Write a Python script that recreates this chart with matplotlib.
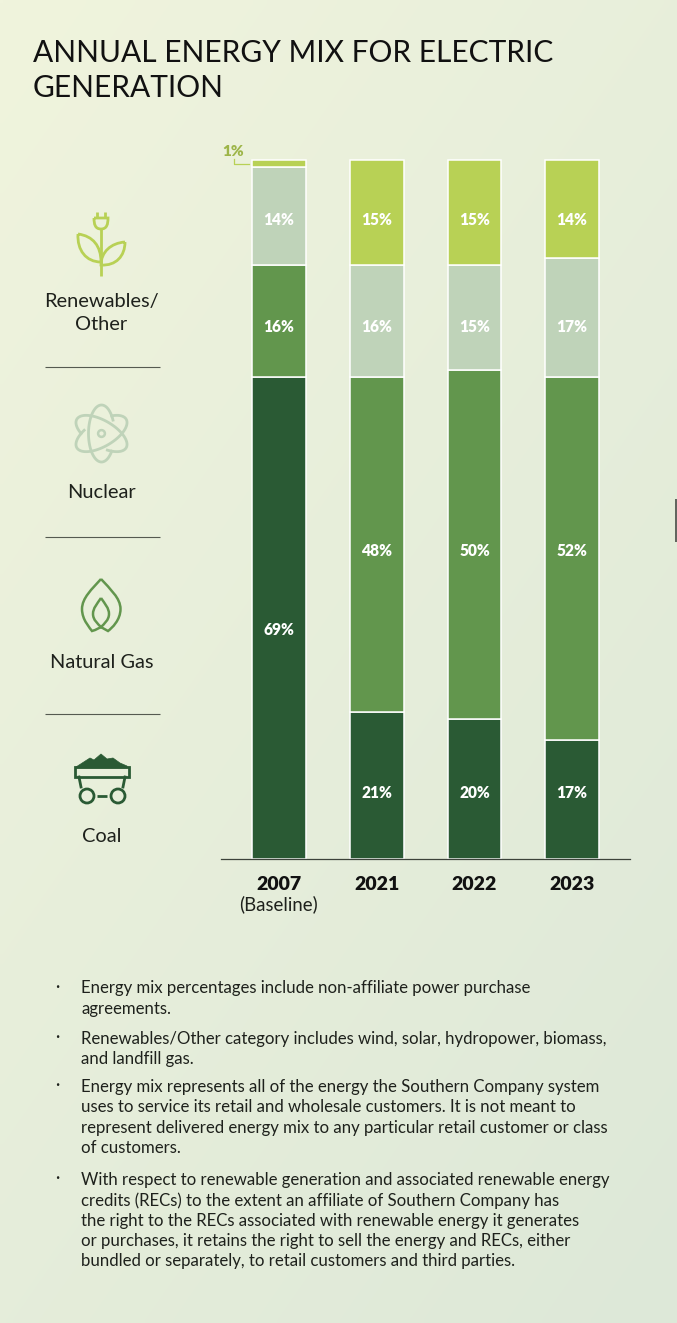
import numpy as np
import matplotlib
matplotlib.use("Agg")
import matplotlib.pyplot as plt
from matplotlib.patches import Circle, Rectangle, PathPatch, Polygon
from matplotlib.path import Path

# Data
years = ["2007", "2021", "2022", "2023"]
coal = [69, 21, 20, 17]
gas = [16, 48, 50, 52]
nuclear = [14, 16, 15, 17]
renewables = [1, 15, 15, 14]

title_lines = ["ANNUAL ENERGY MIX FOR ELECTRIC", "GENERATION"]

notes = [
    ["Energy mix percentages include non-affiliate power purchase", "agreements."],
    ["Renewables/Other category includes wind, solar, hydropower, biomass,", "and landfill gas."],
    ["Energy mix represents all of the energy the Southern Company system",
     "uses to service its retail and wholesale customers. It is not meant to",
     "represent delivered energy mix to any particular retail customer or class",
     "of customers."],
    ["With respect to renewable generation and associated renewable energy",
     "credits (RECs) to the extent an affiliate of Southern Company has",
     "the right to the RECs associated with renewable energy it generates",
     "or purchases, it retains the right to sell the energy and RECs, either",
     "bundled or separately, to retail customers and third parties."],
]

# Colours
C_COAL = "#2a5a34"
C_GAS = "#62964d"
C_NUC = "#bfd3b9"
C_REN = "#b8d155"
INK = "#1e211c"

plt.rcParams["font.family"] = ["Lato", "DejaVu Sans"]

W, H = 677, 1323
fig = plt.figure(figsize=(W / 100, H / 100), dpi=100)

# Background in pixel coords
bg = fig.add_axes([0, 0, 1, 1])
bg.axis("off")

gy, gx = np.mgrid[0:1:200j, 0:1:120j]
t = (gx * 0.55 + gy * 0.75) / 1.3
c0 = np.array([0xf0, 0xf4, 0xdd]) / 255
c1 = np.array([0xdd, 0xe8, 0xd8]) / 255
grad = c0 + (c1 - c0) * t[..., None]
bg.imshow(grad, extent=[0, W, H, 0], aspect="auto", interpolation="bilinear", zorder=0)
bg.set_xlim(0, W)
bg.set_ylim(H, 0)

# Title
bg.text(33, 53, title_lines[0], fontsize=21.5, color="#111111", va="center", ha="left")
bg.text(33, 88, title_lines[1], fontsize=21.5, color="#111111", va="center", ha="left")

# Legend labels
for label, y in [("Renewables/", 302), ("Other", 325), ("Nuclear", 492), ("Natural Gas", 663), ("Coal", 836)]:
    bg.text(101.5, y, label, fontsize=14.4, color=INK, ha="center", va="center")

for y in [367, 537, 714]:
    bg.plot([45, 160], [y, y], color="#555a50", lw=0.8, solid_capstyle="butt")

# Renewables icon
lw_icon = 2.0
bg.plot([101, 101], [229, 276], color=C_REN, lw=lw_icon, solid_capstyle="butt")
bg.plot([97, 97], [212, 218], color=C_REN, lw=lw_icon, solid_capstyle="butt")
bg.plot([105, 105], [212, 218], color=C_REN, lw=lw_icon, solid_capstyle="butt")
plug = Path([(94, 218), (108, 218), (108, 224), (107, 229), (101, 229), (95, 229), (94, 224), (94, 218)],
            [Path.MOVETO, Path.LINETO, Path.CURVE4, Path.CURVE4, Path.CURVE4, Path.CURVE4, Path.CURVE4, Path.CURVE4])
bg.add_patch(PathPatch(plug, fc="none", ec=C_REN, lw=lw_icon))
leaf_l = Path([(78, 234), (93, 236), (101, 246), (101, 262), (86, 262), (77, 250), (78, 234)],
              [Path.MOVETO] + [Path.CURVE4] * 6)
leaf_r = Path([(125, 242), (111, 243), (101, 252), (101, 265), (116, 266), (125, 256), (125, 242)],
              [Path.MOVETO] + [Path.CURVE4] * 6)
bg.add_patch(PathPatch(leaf_l, fc="none", ec=C_REN, lw=lw_icon))
bg.add_patch(PathPatch(leaf_r, fc="none", ec=C_REN, lw=lw_icon))

# Nuclear icon, three orbits each broken near the middle to give the pinwheel
for ang in [0, 120, 240]:
    th = np.radians(np.linspace(35, 335, 120))
    ex, ey = 13 * np.cos(th), 28.5 * np.sin(th)
    a = np.radians(ang)
    bg.plot(101.5 + ex * np.cos(a) - ey * np.sin(a), 433.5 + ex * np.sin(a) + ey * np.cos(a),
            color=C_NUC, lw=2.0, solid_capstyle="butt")
bg.add_patch(Circle((101.5, 433.5), 3.4, fc="none", ec=C_NUC, lw=1.8, zorder=4))

# Natural gas icon
outer = Path([(101, 579), (92, 589), (82, 598), (82, 609), (82, 620), (90, 628), (92, 631),
              (96, 630), (101, 627), (101, 627), (101, 627), (106, 630), (108, 631),
              (112, 628), (120.5, 620), (120.5, 609), (120.5, 598), (110, 589), (101, 579)],
             [Path.MOVETO] + [Path.CURVE4] * 18)
inner = Path([(101, 598), (97, 604), (93, 608), (93, 614), (93, 620), (98, 624), (101, 627),
              (104, 624), (109, 620), (109, 614), (109, 608), (105, 604), (101, 598)],
             [Path.MOVETO] + [Path.CURVE4] * 12)
bg.add_patch(PathPatch(outer, fc="none", ec=C_GAS, lw=1.8))
bg.add_patch(PathPatch(inner, fc="none", ec=C_GAS, lw=1.8))

# Coal cart icon
heap = [(76, 767), (90, 758), (94, 760), (101, 754), (107, 759), (113, 758), (120, 763), (127, 766), (127, 768), (76, 768)]
bg.add_patch(Polygon(heap, closed=True, fc=C_COAL, ec=C_COAL, lw=0.5))
bg.add_patch(Rectangle((75, 767), 53.5, 10, fc="none", ec=C_COAL, lw=2.0))
bg.plot([79, 81], [777, 787], color=C_COAL, lw=2.0)
bg.plot([125, 123], [777, 787], color=C_COAL, lw=2.0)
bg.add_patch(Circle((87, 796), 7, fc="none", ec=C_COAL, lw=2.0))
bg.add_patch(Circle((118, 796), 7, fc="none", ec=C_COAL, lw=2.0))
bg.plot([97, 107], [796, 796], color=C_COAL, lw=2.0, solid_capstyle="butt")

# Scrollbar stub on right edge of the screenshot
bg.add_patch(Rectangle((675, 499), 2, 43, fc="#62665f", ec="none"))

# Chart
x0, x1, y_base, y_top = 221, 630, 859, 160
ax = fig.add_axes([x0 / W, 1 - y_base / H, (x1 - x0) / W, (y_base - y_top) / H])
ax.patch.set_alpha(0)
x = np.arange(len(years))
ax.set_xlim((221 - 279) / 97.7, (630 - 279) / 97.7)
ax.set_ylim(0, 100)

bottom = np.zeros(len(years))
for values, color in [(coal, C_COAL), (gas, C_GAS), (nuclear, C_NUC), (renewables, C_REN)]:
    ax.bar(x, values, 0.55, bottom=bottom, color=color, edgecolor="white", linewidth=1.1, clip_on=False, zorder=2)
    bottom += np.array(values)

# The original labels do not sit at segment centres
label_heights = {
    0: [32.7, 76.1, 91.4],
    1: [9.4, 44.1, 76.1, 91.4],
    2: [9.4, 44.1, 76.1, 91.4],
    3: [9.4, 44.1, 76.1, 91.4],
}
for i in x:
    vals = [coal[i], gas[i], nuclear[i], renewables[i]]
    for v, h in zip(vals, label_heights[i]):
        ax.text(i, h, f"{v}%", color="white", fontsize=11.2, fontweight="heavy", ha="center", va="center", zorder=3)

for side in ["top", "left", "right"]:
    ax.spines[side].set_visible(False)
ax.spines["bottom"].set_color("#3c423a")
ax.spines["bottom"].set_linewidth(0.9)
ax.spines["bottom"].set_zorder(5)
ax.set_yticks([])
ax.set_xticks(x)
ax.set_xticklabels(years, fontsize=14, fontweight="heavy", color="#111111")
ax.tick_params(axis="x", length=0, pad=12)

# 1% callout and baseline note
bg.text(233, 152, f"{renewables[0]}%", color="#9db548", fontsize=11, fontweight="heavy", ha="center", va="center")
bg.plot([233.5, 233.5, 249], [159, 163.5, 163.5], color=C_REN, lw=0.9, zorder=3)
bg.text(279, 904, "(Baseline)", fontsize=13.4, color=INK, ha="center", va="center")

# Footnotes
line_h = 20.35
starts = [988.5, 1039, 1087, 1180]
for lines, y0 in zip(notes, starts):
    bg.text(57.5, y0 - 2, "·", fontsize=12, color=INK, ha="center", va="center")
    for k, line in enumerate(lines):
        bg.text(81, y0 + k * line_h, line, fontsize=12.1, color=INK, ha="left", va="center")

fig.savefig("out.png", dpi=100)
